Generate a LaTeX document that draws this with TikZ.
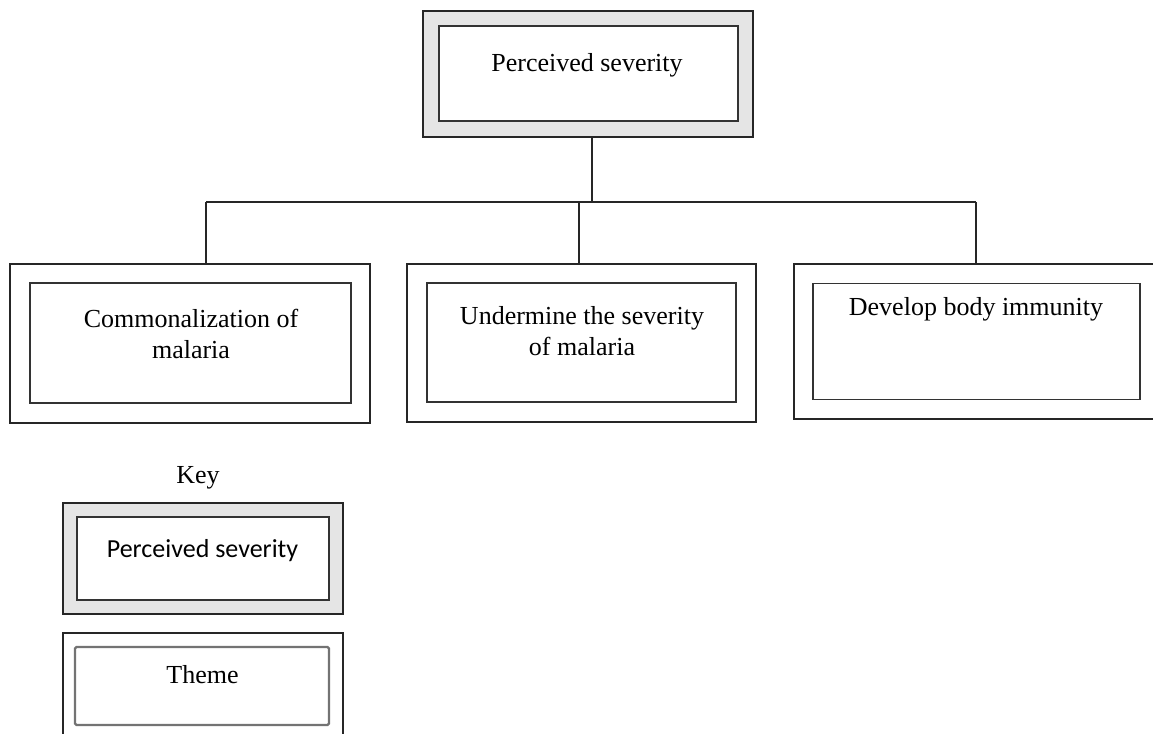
\documentclass[tikz,border=0pt]{standalone}
\usepackage{fontspec}
\setmainfont{Liberation Serif}
\newfontfamily\keysans{Carlito}
\begin{document}
\begin{tikzpicture}[x=1pt,y=-1pt,
  frame/.style={draw=black!85, line width=1.6pt, inner sep=0pt, outer sep=0pt},
  boxline/.style={draw=black!80, line width=1.6pt, fill=white, inner sep=0pt, outer sep=0pt},
  softline/.style={draw=black!55, line width=2.2pt, rounded corners=1.5pt, fill=white, inner sep=0pt, outer sep=0pt},
  label/.style={font=\fontsize{26}{31}\selectfont, align=center, inner sep=0pt, anchor=base},
  link/.style={draw=black!85, line width=1.5pt}]
\clip (0,0) rectangle (1153,733);
\fill[white] (0,0) rectangle (1153,733);

% top construct box: grey band between outer and inner frame
\node[frame, fill=black!10, minimum width=330pt, minimum height=126pt] (top) at (588,74) {};
\node[boxline, minimum width=299pt, minimum height=95pt] (topin) at (588.5,73.5) {};
\node[label] (toptxt) at (587,72) {Perceived severity};

% theme boxes (anchor base sits on the last line of a two-line label)
\node[frame, minimum width=360pt, minimum height=159pt] (t1) at (190,343.5) {};
\node[boxline, minimum width=321pt, minimum height=120pt] (t1in) at (190.5,343) {};
\node[label] (t1txt) at (191,358) {Commonalization of\\malaria};

\node[frame, minimum width=349pt, minimum height=158pt] (t2) at (581.5,343) {};
\node[boxline, minimum width=309pt, minimum height=119pt] (t2in) at (581.5,342.5) {};
\node[label] (t2txt) at (582,355) {Undermine the severity\\of malaria};

\node[frame, minimum width=380pt, minimum height=155pt] (t3) at (984,341.5) {};
\node[boxline, minimum width=327pt, minimum height=116pt] (t3in) at (976.5,341.5) {};
\node[label] (t3txt) at (976,315) {Develop body immunity};

% connectors
\coordinate (bt) at (592,202);
\coordinate (b1) at (206,202);
\coordinate (b2) at (579,202);
\coordinate (b3) at (976,202);
\draw[link] (top.south -| bt) -- (bt);
\draw[link] (b1) -- (b3);
\draw[link] (b1) -- (b1 |- t1.north);
\draw[link] (b2) -- (b2 |- t2.north);
\draw[link] (b3) -- (b3 |- t3.north);

% key
\node[label] (keytxt) at (198,483) {Key};
\node[frame, fill=black!10, minimum width=280pt, minimum height=111pt] (k1) at (203,558.5) {};
\node[boxline, minimum width=252pt, minimum height=83pt] (k1in) at (203,558.5) {};
\node[label, font=\keysans\fontsize{26}{31}\selectfont] (k1txt) at (202.5,557) {Perceived severity};

\node[frame, minimum width=280pt, minimum height=120pt] (k2) at (203,693) {};
\node[softline, minimum width=254pt, minimum height=78pt] (k2in) at (202,686) {};
\node[label] (k2txt) at (202.5,683) {Theme};
\end{tikzpicture}
\end{document}
